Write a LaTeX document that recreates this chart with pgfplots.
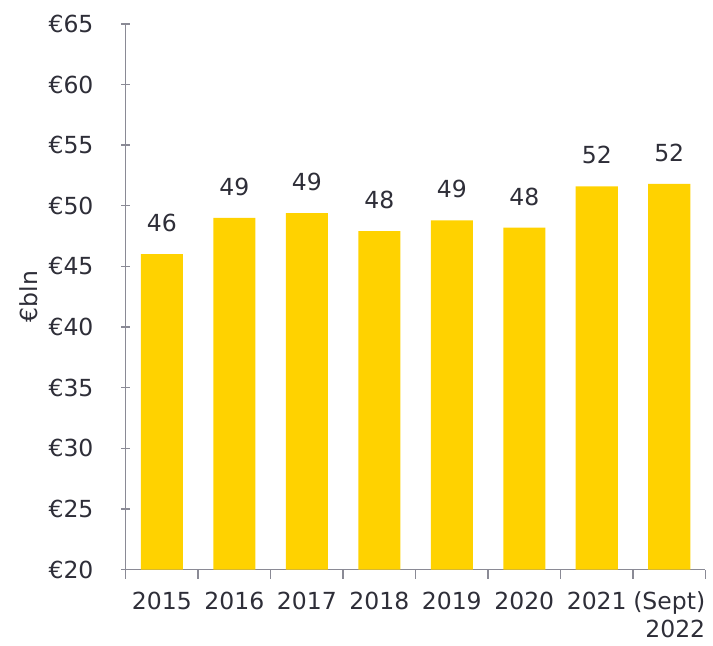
\documentclass[border=0pt]{standalone}
\usepackage{fontspec}
\setmainfont{DejaVu Sans}
\usepackage{pgfplots}
\pgfplotsset{compat=1.18}
\definecolor{barYellow}{HTML}{FFD200}
\definecolor{txt}{HTML}{2E2E38}
\definecolor{axisgray}{HTML}{8A8A95}
\begin{document}
\fontsize{9.4pt}{11pt}\selectfont
\begin{tikzpicture}
\begin{axis}[
  scale only axis,
  width=8.15cm, height=7.67cm,
  ymin=20, ymax=65,
  ytick={20,25,...,65},
  yticklabel={\texteuro\pgfmathprintnumber{\tick}},
  xmin=-0.5, xmax=7.5,
  xtick={0,...,7},
  xticklabels={2015,2016,2017,2018,2019,2020,2021,{(Sept)\\2022}},
  xticklabel style={align=right, text=txt, yshift=-2pt},
  yticklabel style={text=txt, xshift=-0.27cm},
  major x tick style={draw=none},
  minor xtick={-0.5,0.5,...,7.5},
  tick align=outside,
  major tick length=0.13cm,
  minor tick length=0.13cm,
  tick style={axisgray, line width=0.6pt},
  axis x line=bottom, axis y line=left,
  axis line style={axisgray, line width=0.6pt, -},
  ylabel={\texteuro bln},
  ylabel style={text=txt, yshift=-0.07cm},
  every tick label/.append style={font=\fontsize{9.4pt}{11pt}\selectfont},
  /pgf/number format/assume math mode=true,
  ybar, bar width=0.58,
  nodes near coords={\pgfmathprintnumber[fixed,precision=0]{\pgfplotspointmeta}},
  nodes near coords style={text=txt, font=\fontsize{9.4pt}{11pt}\selectfont, yshift=5.5pt},
  clip=false,
]
\addplot[fill=barYellow, draw=none] coordinates {
  (0,46.0) (1,49.0) (2,49.4) (3,47.9) (4,48.8) (5,48.2) (6,51.6) (7,51.8)
};
\end{axis}
\path ([xshift=-0.16cm]current bounding box.west);
\path ([yshift=0.1cm]current bounding box.north);
\end{tikzpicture}
\end{document}
